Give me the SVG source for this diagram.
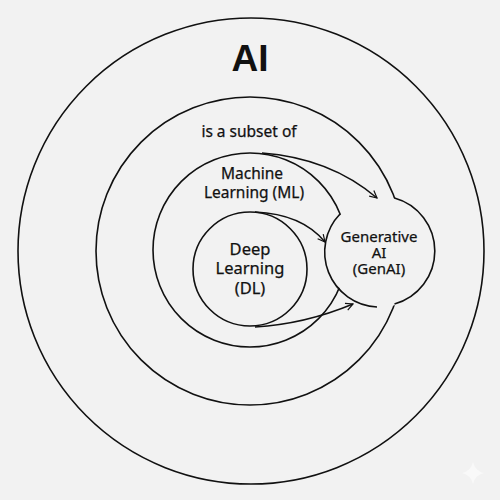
<svg xmlns="http://www.w3.org/2000/svg" width="500" height="500" viewBox="0 0 500 500">
<style>
.c{fill:none;stroke:#111;stroke-width:1.6}
.a{fill:none;stroke:#111;stroke-width:1.4;marker-end:url(#ah)}
text{font-family:"Noto Sans","Open Sans","DejaVu Sans",sans-serif;fill:#111;text-anchor:middle;stroke:#111;stroke-width:0.25}
.t{font-size:15.5px}
.g{font-size:15px}
</style>
<defs>
<marker id="ah" viewBox="0 0 10 10" refX="9" refY="5" markerWidth="9" markerHeight="9" orient="auto" markerUnits="userSpaceOnUse">
<path d="M1,1 L9,5 L1,9" fill="none" stroke="#111" stroke-width="1.3"/>
</marker>
</defs>
<rect width="500" height="500" fill="#f2f2f2"/>
<g id="ai">
<circle class="c" cx="251" cy="251" r="233"/>
<text x="250" y="71" style="font-size:37px;font-weight:bold;stroke:none;font-family:'Liberation Sans','DejaVu Sans',sans-serif">AI</text>
<text class="t" x="249" y="137">is a subset of</text>
</g>
<g id="subset">
<circle class="c" cx="250" cy="251" r="154"/>
</g>
<g id="ml">
<circle class="c" cx="250" cy="250" r="97"/>
<text class="t" x="252" y="179">Machine</text>
<text class="t" x="254" y="198">Learning (ML)</text>
</g>
<g id="dl">
<circle class="c" cx="250" cy="269" r="57"/>
<text x="250" y="255" style="font-size:16.5px">Deep</text>
<text x="250" y="274" style="font-size:16.5px">Learning</text>
<text x="250" y="294" style="font-size:16.5px">(DL)</text>
</g>
<g id="genai">
<circle cx="381" cy="252" r="55" fill="#f2f2f2"/>
<path class="c" d="M340,214 A55,55 0 0 0 377,307"/>
<path class="c" d="M394.5,304 A55,55 0 0 0 394.5,198"/>
<text class="g" x="379" y="242">Generative</text>
<text class="g" x="379" y="258">AI</text>
<text class="g" x="379" y="274">(GenAI)</text>
</g>
<g id="connectors">
<path class="a" d="M262,153 Q330,158 377,198"/>
<path class="a" d="M255,212 Q302,214 325,242"/>
<path class="a" d="M255,327 Q305,324 353,304"/>
</g>
<path d="M473,462 Q475,471 484,473 Q475,475 473,484 Q471,475 462,473 Q471,471 473,462Z" fill="#f9f9f9"/>
</svg>
